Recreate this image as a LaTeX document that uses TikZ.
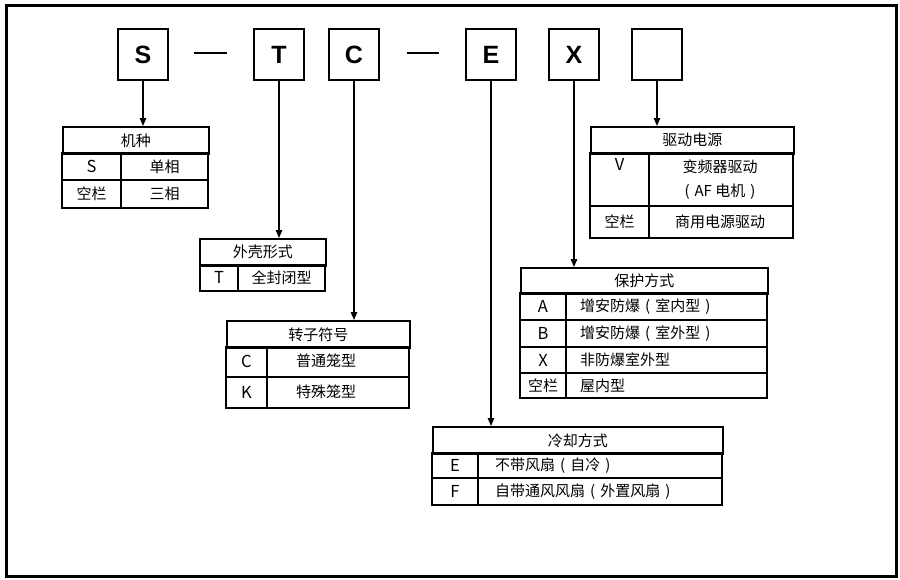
\documentclass[tikz,border=0pt]{standalone}
\usepackage{fontspec}
\setmainfont{Liberation Sans}
\newfontfamily\cjk{Noto Sans CJK SC}
\usetikzlibrary{arrows.meta}
\begin{document}
\begin{tikzpicture}[x=1pt,y=-1pt,
  topbox/.style={draw,line width=1.8pt,minimum width=50pt,minimum height=51pt,inner sep=0pt,font=\fontsize{25}{25}\selectfont\bfseries},
  grid/.style={line width=1.6pt},
  hdr/.style={draw,line width=1.6pt,inner sep=0pt,anchor=north west,font=\cjk\fontsize{15}{17}\selectfont},
  txt/.style={font=\cjk\fontsize{15}{17}\selectfont,inner sep=0pt},
  lettr/.style={font=\cjk\fontsize{16.5}{18}\selectfont,inner sep=0pt},
  ltxt/.style={txt,anchor=west},
  arr/.style={line width=1.4pt,-{Triangle[length=8pt,width=6.5pt]}},
  dashline/.style={line width=1.8pt}]
\useasboundingbox (0,0) rectangle (900,579);
\draw[line width=3pt] (6.5,5.5) rectangle (896.5,576);

% top code boxes
\node[topbox] (bS) at (143,54.5) {S};
\node[topbox] (bT) at (279,54.5) {T};
\node[topbox] (bC) at (354,54.5) {C};
\node[topbox] (bE) at (491,54.5) {E};
\node[topbox] (bX) at (574,54.5) {X};
\node[topbox] (bV) at (657,54.5) {};
\coordinate (d1a) at (194,53); \coordinate (d1b) at (227,53);
\coordinate (d2a) at (407,53); \coordinate (d2b) at (439,53);
\draw[dashline] (d1a) -- (d1b);
\draw[dashline] (d2a) -- (d2b);

% table 1: 机种
\node[hdr,minimum width=146pt,minimum height=27pt] (h1) at (62,126) {机种};
\draw[grid] (62,153) rectangle (208,208);
\draw[grid] (62,180) -- (208,180);
\draw[grid] (121,153) -- (121,208);
\node[lettr] (t1a) at (91.5,166) {S};
\node[txt] (t1b) at (164.5,166.5) {单相};
\node[txt] (t1c) at (91.5,194) {空栏};
\node[txt] (t1d) at (164.5,194) {三相};

% table 2: 外壳形式
\node[hdr,minimum width=126pt,minimum height=27pt] (h2) at (199,238) {外壳形式};
\draw[grid] (200,265) rectangle (325,291);
\draw[grid] (238,265) -- (238,291);
\node[lettr] (t2a) at (219,277.5) {T};
\node[txt] (t2b) at (281.5,278) {全封闭型};

% table 3: 转子符号
\node[hdr,minimum width=183pt,minimum height=27pt] (h3) at (226,320) {转子符号};
\draw[grid] (226,347) rectangle (409,408);
\draw[grid] (226,377) -- (409,377);
\draw[grid] (267,347) -- (267,408);
\node[lettr] (t3a) at (246.5,361.5) {C};
\node[txt] (t3b) at (326,361) {普通笼型};
\node[lettr] (t3c) at (246.5,392.5) {K};
\node[txt] (t3d) at (326,391.5) {特殊笼型};

% table 4: 驱动电源
\node[hdr,minimum width=203pt,minimum height=27pt] (h4) at (590,126) {驱动电源};
\draw[grid] (590,153) rectangle (793,238);
\draw[grid] (590,206) -- (793,206);
\draw[grid] (649,153) -- (649,238);
\node[lettr] (t4a) at (619.5,164) {V};
\node[txt] (t4b) at (720,167) {变频器驱动};
\node[txt] (t4c) at (720,192) {(\,\,AF 电机\,\,)};
\node[txt] (t4d) at (619.5,221.5) {空栏};
\node[txt] (t4e) at (720,221.5) {商用电源驱动};

% table 5: 保护方式
\node[hdr,minimum width=247pt,minimum height=26pt] (h5) at (520,267) {保护方式};
\draw[grid] (520,293) rectangle (767,398);
\draw[grid] (520,320) -- (767,320);
\draw[grid] (520,347) -- (767,347);
\draw[grid] (520,373) -- (767,373);
\draw[grid] (566,293) -- (566,398);
\node[lettr] (t5a) at (543,306.5) {A};
\node[ltxt] (t5b) at (580,306.5) {增安防爆\,\,(\,\,室内型\,\,)};
\node[lettr] (t5c) at (543,333.5) {B};
\node[ltxt] (t5d) at (580,333.5) {增安防爆\,\,(\,\,室外型\,\,)};
\node[lettr] (t5e) at (543,360) {X};
\node[ltxt] (t5f) at (580,360) {非防爆室外型};
\node[txt] (t5g) at (543,385.5) {空栏};
\node[ltxt] (t5h) at (580,385.5) {屋内型};

% table 6: 冷却方式
\node[hdr,minimum width=290pt,minimum height=27pt] (h6) at (432,426) {冷却方式};
\draw[grid] (432,453) rectangle (722,505);
\draw[grid] (432,478) -- (722,478);
\draw[grid] (478,453) -- (478,505);
\node[lettr] (t6a) at (455,465.5) {E};
\node[ltxt] (t6b) at (495,465.5) {不带风扇\,\,(\,\,自冷\,\,)};
\node[lettr] (t6c) at (455,491.5) {F};
\node[ltxt] (t6d) at (495,491.5) {自带通风风扇\,\,(\,\,外置风扇\,\,)};

% connectors
\draw[arr] (bS.south) -- (bS.south |- h1.north);
\draw[arr] (bT.south) -- (bT.south |- h2.north);
\draw[arr] (bC.south) -- (bC.south |- h3.north);
\draw[arr] (bE.south) -- (bE.south |- h6.north);
\draw[arr] (bX.south) -- (bX.south |- h5.north);
\draw[arr] (bV.south) -- (bV.south |- h4.north);
\end{tikzpicture}
\end{document}
